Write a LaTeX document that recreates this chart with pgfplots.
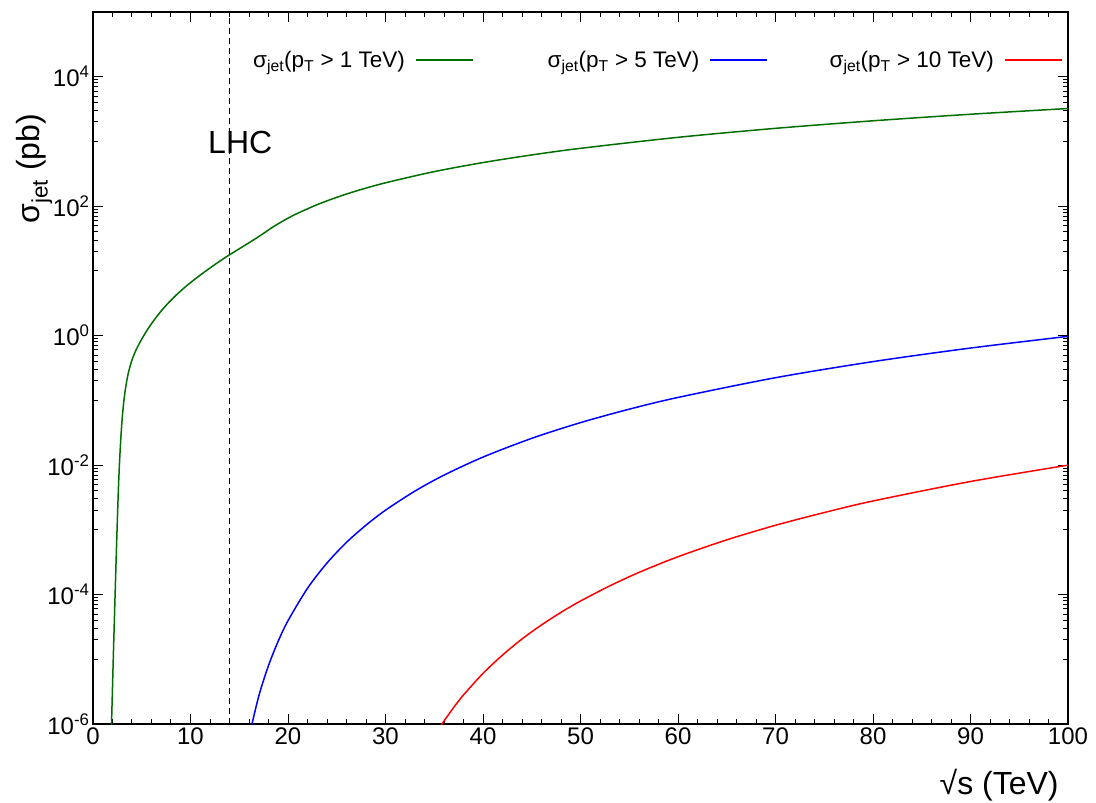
\documentclass[border=0pt]{standalone}
\usepackage{pgfplots}
\pgfplotsset{compat=1.18}
\usepackage{fontspec}
\setmainfont{Liberation Sans}
\definecolor{dgreen}{RGB}{0,110,0}
\begin{document}
\begin{tikzpicture}
\begin{axis}[
  scale only axis,
  width=975bp, height=712bp,
  ymode=log,
  xmin=0, xmax=100, ymin=1e-6, ymax=1e5,
  xtick={0,10,...,100},
  xticklabels={0,10,20,30,40,50,60,70,80,90,100},
  minor xtick={2,4,6,8,12,14,16,18,22,24,26,28,32,34,36,38,42,44,46,48,52,54,56,58,62,64,66,68,72,74,76,78,82,84,86,88,92,94,96,98},
  ytick={1e-6,1e-4,1e-2,1,1e2,1e4},
  yticklabels={10\textsuperscript{-6},10\textsuperscript{-4},10\textsuperscript{-2},10\textsuperscript{0},10\textsuperscript{2},10\textsuperscript{4}},
  minor ytick={1e-5,2e-5,3e-5,4e-5,5e-5,6e-5,7e-5,8e-5,9e-5,
               1e-3,2e-3,3e-3,4e-3,5e-3,6e-3,7e-3,8e-3,9e-3,
               1e-1,2e-1,3e-1,4e-1,5e-1,6e-1,7e-1,8e-1,9e-1,
               10,20,30,40,50,60,70,80,90,
               1000,2000,3000,4000,5000,6000,7000,8000,9000},
  tick align=inside,
  major tick length=10bp,
  minor tick length=5bp,
  axis line style={line width=1.6bp},
  every tick/.style={black, line width=1bp},
  tick label style={font=\fontsize{24bp}{28bp}\selectfont},
  xlabel={√s (TeV)},
  ylabel={σ\textsubscript{jet} (pb)},
  label style={font=\fontsize{32bp}{36bp}\selectfont},
  x label style={at={(axis description cs:0.994,-0.058)}, anchor=north east},
  y label style={at={(axis description cs:-0.06,0.78)}, anchor=center},
  legend plot pos=right,
  legend columns=3,
  legend image code/.code={\draw[#1] (0bp,0bp) -- (57bp,0bp);},
  legend style={draw=none, fill=none, inner sep=0pt, outer sep=0pt,
    nodes={inner sep=0pt, font=\fontsize{22.5bp}{26bp}\selectfont},
    at={(axis description cs:0.0882,0.9326)}, anchor=west,
    column sep=0pt},
]
\addplot[dgreen, line width=1.5bp, smooth] coordinates {
(1.846,5.0e-7) (1.90,1.0e-6) (2.103,1.38e-5) (2.287,1.26e-4) (2.462,9.55e-4)
(2.636,5.62e-3) (2.821,0.0214) (3.026,0.0603) (3.282,0.135) (3.590,0.251)
(4.0,0.422) (4.513,0.646) (5.128,0.955) (5.846,1.419) (6.667,2.089)
(7.487,2.924) (8.410,4.064) (9.436,5.610) (10.46,7.482) (11.59,10.02)
(12.72,13.21) (13.88,17.26) (16.8,32.4) (18.5,48.2) (20,65.3) (21,77.8)
(23,105.7) (25,137.0) (27,171.8) (30,229.7) (35,342) (40,472) (45,619) (50,783)
(60,1158) (70,1594) (80,2085) (90,2632) (100,3228)};
\addlegendentry{\makebox[236bp][r]{σ\textsubscript{jet}(p\textsubscript{T} > 1 TeV)\hspace{10bp}}}
\addplot[blue, line width=1.5bp, smooth] coordinates {
(16.0,6.35e-7) (17,2.69e-6) (18,8.0e-6) (19,1.91e-5) (20,3.94e-5)
(22,1.25e-4) (24,3.07e-4) (26,6.40e-4) (28,1.18e-3) (30,2.01e-3)
(33,3.95e-3) (36,7.00e-3) (40,0.0133) (45,0.0259) (50,0.0453)
(55,0.0731) (60,0.111) (70,0.224) (80,0.397) (90,0.643) (100,0.975)};
\addlegendentry{\makebox[236bp][r]{σ\textsubscript{jet}(p\textsubscript{T} > 5 TeV)\hspace{10bp}}}
\addplot[red, line width=1.5bp, smooth] coordinates {
(35.5,8.53e-7) (36,1.11e-6) (37,1.81e-6) (38,2.81e-6) (40,6.05e-6)
(42,1.16e-5) (44,2.06e-5) (46,3.39e-5) (48,5.31e-5) (50,7.95e-5)
(53,1.36e-4) (56,2.20e-4) (60,3.84e-4) (65,7.00e-4) (70,1.175e-3)
(75,1.85e-3) (80,2.79e-3) (90,5.58e-3) (100,9.98e-3)};
\addlegendentry{\makebox[236bp][r]{σ\textsubscript{jet}(p\textsubscript{T} > 10 TeV)\hspace{10bp}}}
\addplot[black, line width=1bp, dash pattern=on 6bp off 4bp, forget plot] coordinates {(14,1e-6) (14,1e5)};
\node[font=\fontsize{32bp}{36bp}\selectfont] at (axis cs:15.1,950) {LHC};
\end{axis}
\pgfresetboundingbox
\path[use as bounding box] ([xshift=-93bp,yshift=-79bp]current axis.south west) rectangle ([xshift=28bp,yshift=12bp]current axis.north east);
\end{tikzpicture}
\end{document}
